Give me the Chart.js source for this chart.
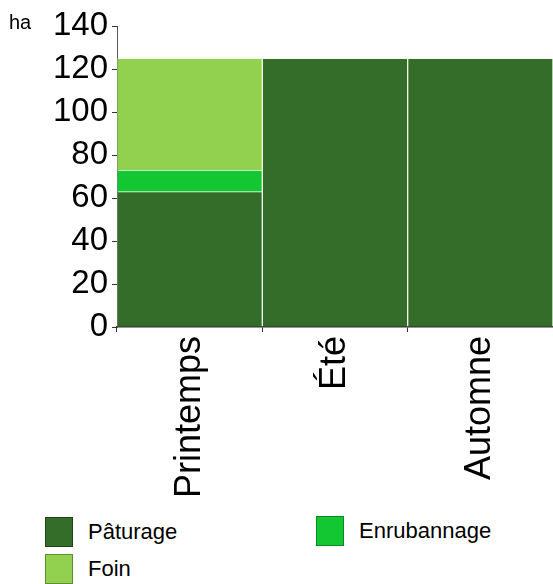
<!DOCTYPE html>
<html>
<head>
<meta charset="utf-8">
<script src="https://cdn.jsdelivr.net/npm/chart.js@4/dist/chart.umd.min.js"></script>
<style>
  body{ margin:0; background:#fff; font-family:"Liberation Sans", Arial, sans-serif; }
  #wrap{ position:relative; width:553px; height:505px; }
  #legend{ position:relative; width:553px; height:79px; overflow:hidden; }
  .item{ position:absolute; display:flex; align-items:center; font-size:22px; color:#000; }
  .box{ width:26px; height:28px; border:1px solid #222; margin-right:15px; }
</style>
</head>
<body>
<div id="wrap"><canvas id="chart" width="553" height="505"></canvas></div>
<div id="legend"></div>
<script>
// ===== Data =====
const seasons = ["Printemps", "Été", "Automne"];
const paturage = [63, 125, 125];
const enrubannage = [10, 0, 0];
const foin = [52, 0, 0];
const yTicks = [0, 20, 40, 60, 80, 100, 120, 140];

const series = [
  { label: "Pâturage", data: paturage, color: "#336d29", edge: "#1e4418" },
  { label: "Enrubannage", data: enrubannage, color: "#12c732", edge: "#0b8a22" },
  { label: "Foin", data: foin, color: "#92d050", edge: "#5e8f2c" }
];

// "ha" unit label at the top left
const unitLabel = {
  id: "unitLabel",
  afterDraw(chart){
    const ctx = chart.ctx;
    ctx.save();
    ctx.font = "20px 'Liberation Sans', Arial, sans-serif";
    ctx.fillStyle = "#000";
    ctx.textBaseline = "middle";
    ctx.fillText("ha", 9, 23);
    ctx.restore();
  }
};

const ctx = document.getElementById("chart").getContext("2d");
new Chart(ctx, {
  type: "bar",
  data: {
    labels: seasons,
    datasets: series.map(s => ({
      label: s.label,
      data: s.data,
      backgroundColor: s.color,
      borderColor: "rgba(220,255,200,0.3)",
      borderWidth: 1,
      borderSkipped: "bottom",
      categoryPercentage: 1,
      barPercentage: 1
    }))
  },
  options: {
    responsive: false,
    animation: false,
    layout: { padding: { top: 26, right: 0, left: 0, bottom: 0 } },
    plugins: { legend: { display: false }, tooltip: { enabled: false } },
    scales: {
      x: {
        stacked: true,
        grid: { drawOnChartArea: false, drawTicks: true, tickLength: 5, color: "#333" },
        border: { display: true, color: "#333", width: 1.5 },
        ticks: {
          color: "#000", minRotation: 90, maxRotation: 90, padding: 4,
          font: { family: "'Liberation Sans', Arial, sans-serif", size: 36 }
        },
        afterFit(scale){ scale.height = 505 - 327; }
      },
      y: {
        stacked: true,
        min: 0, max: 140,
        afterBuildTicks(scale){ scale.ticks = yTicks.map(v => ({ value: v })); },
        grid: { drawOnChartArea: false, drawTicks: true, tickLength: 5, color: "#333" },
        border: { display: true, color: "#555", width: 1 },
        ticks: {
          color: "#000", padding: 4,
          font: { family: "'Liberation Sans', Arial, sans-serif", size: 33 }
        },
        afterFit(scale){ scale.width = 117; }
      }
    }
  },
  plugins: [unitLabel]
});

// ===== Legend =====
const legendPos = [
  { left: 45, top: 12 },
  { left: 316, top: 11 },
  { left: 45, top: 49 }
];
const legend = document.getElementById("legend");
series.forEach((s, i) => {
  const item = document.createElement("div");
  item.className = "item";
  item.style.left = legendPos[i].left + "px";
  item.style.top = legendPos[i].top + "px";
  item.innerHTML = `<div class="box" style="background:${s.color};border-color:${s.edge}"></div><span>${s.label}</span>`;
  legend.appendChild(item);
});
</script>
</body>
</html>
